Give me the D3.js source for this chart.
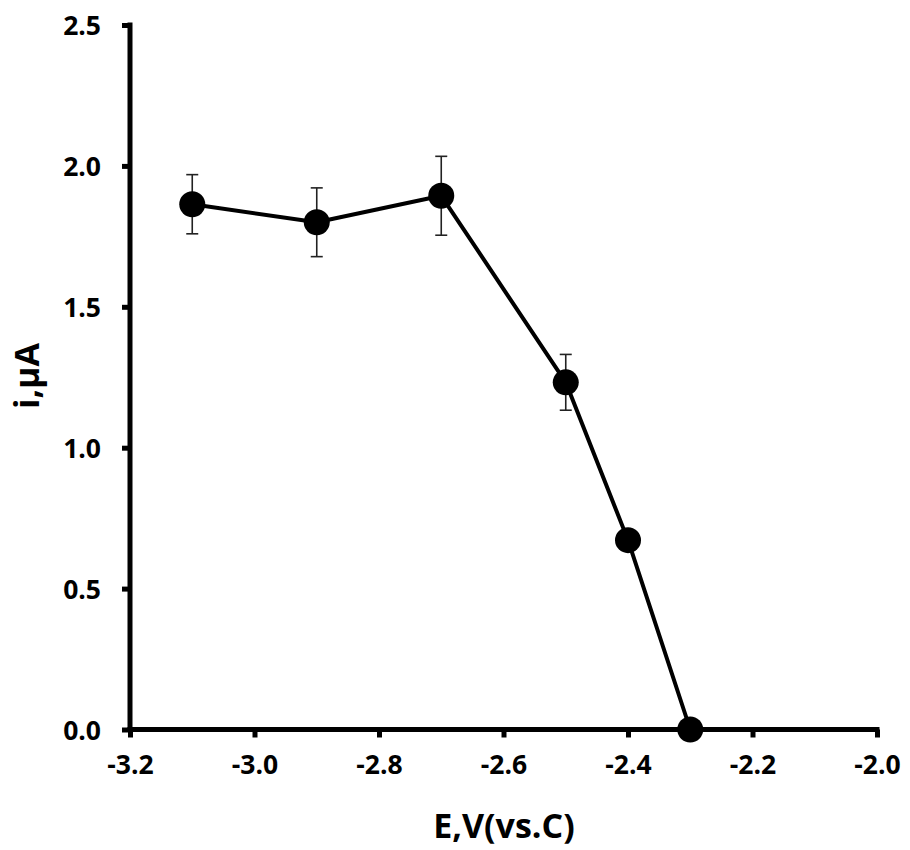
<!DOCTYPE html>
<html>
<head>
<meta charset="utf-8">
<script src="https://cdn.jsdelivr.net/npm/d3@7"></script>
<style>
  html, body { margin: 0; padding: 0; background: #fff; }
  svg { display: block; }
  text { font-family: "Open Sans", "DejaVu Sans", sans-serif; font-weight: 700; fill: #000; }
</style>
</head>
<body>
<svg id="chart" width="910" height="850"></svg>
<script>
const potentials = [-3.1, -2.9, -2.7, -2.5, -2.4, -2.3];
const currents   = [1.864, 1.80, 1.894, 1.232, 0.672, 0.0];
const errors     = [0.105, 0.122, 0.14, 0.099, 0.0, 0.0];
const xTicks = [-3.2, -3.0, -2.8, -2.6, -2.4, -2.2, -2.0];
const yTicks = [0.0, 0.5, 1.0, 1.5, 2.0, 2.5];
const xTitle = "E,V(vs.C)";
const yTitle = "i,μA";

const data = potentials.map((p, i) => ({x: p, y: currents[i], e: errors[i]}));

const svg = d3.select("#chart");
const x = d3.scaleLinear().domain([-3.2, -2.0]).range([130, 877]);
const y = d3.scaleLinear().domain([0, 2.5]).range([729.5, 25]);

// X axis
const xAxis = svg.append("g").attr("transform", `translate(0,${y(0)})`)
  .call(d3.axisBottom(x).tickValues(xTicks).tickFormat(d3.format(".1f")).tickSizeOuter(0).tickSizeInner(8).tickPadding(18));
xAxis.select(".domain").attr("stroke", "#000").attr("stroke-width", 5)
  .attr("d", `M${x(-3.2) - 2.5},0H${x(-2.0) + 2.5}`);
xAxis.selectAll(".tick line").attr("stroke", "#000").attr("stroke-width", 5);
xAxis.selectAll(".tick text").style("font-size", "26.5px").attr("dy", "0.71em")
  .text(d => d3.format(".1f")(d).replace("−", "-"));

// Y axis
const yAxis = svg.append("g").attr("transform", `translate(${x(-3.2)},0)`)
  .call(d3.axisLeft(y).tickValues(yTicks).tickFormat(d3.format(".1f")).tickSizeOuter(0).tickSizeInner(8).tickPadding(21));
yAxis.select(".domain").attr("stroke", "#000").attr("stroke-width", 5)
  .attr("d", `M0,${y(0) + 2.5}V${y(2.5) - 2.5}`);
yAxis.selectAll(".tick line").attr("stroke", "#000").attr("stroke-width", 5);
yAxis.selectAll(".tick text").style("font-size", "26.5px").attr("dy", "0.36em");

// Error bars
const eb = svg.append("g");
data.filter(d => d.e > 0).forEach(d => {
  const cx = x(d.x);
  eb.append("line").attr("x1", cx).attr("x2", cx).attr("y1", y(d.y - d.e)).attr("y2", y(d.y + d.e))
    .attr("stroke", "#222").attr("stroke-width", 1.6);
  [d.y - d.e, d.y + d.e].forEach(v => {
    eb.append("line").attr("x1", cx - 6).attr("x2", cx + 6).attr("y1", y(v)).attr("y2", y(v))
      .attr("stroke", "#222").attr("stroke-width", 1.6);
  });
});

// Line
svg.append("path").datum(data)
  .attr("fill", "none").attr("stroke", "#000").attr("stroke-width", 4)
  .attr("stroke-linejoin", "round")
  .attr("d", d3.line().x(d => x(d.x)).y(d => y(d.y)));

// Markers
svg.append("g").selectAll("circle").data(data).join("circle")
  .attr("cx", d => x(d.x)).attr("cy", d => y(d.y)).attr("r", 13).attr("fill", "#000");

// Titles
svg.append("text").attr("x", 504).attr("y", 838).attr("text-anchor", "middle")
  .style("font-size", "34px").text(xTitle);
svg.append("text").attr("transform", "translate(39,376) rotate(-90)").attr("text-anchor", "middle")
  .style("font-size", "34px").text(yTitle);
</script>
</body>
</html>
